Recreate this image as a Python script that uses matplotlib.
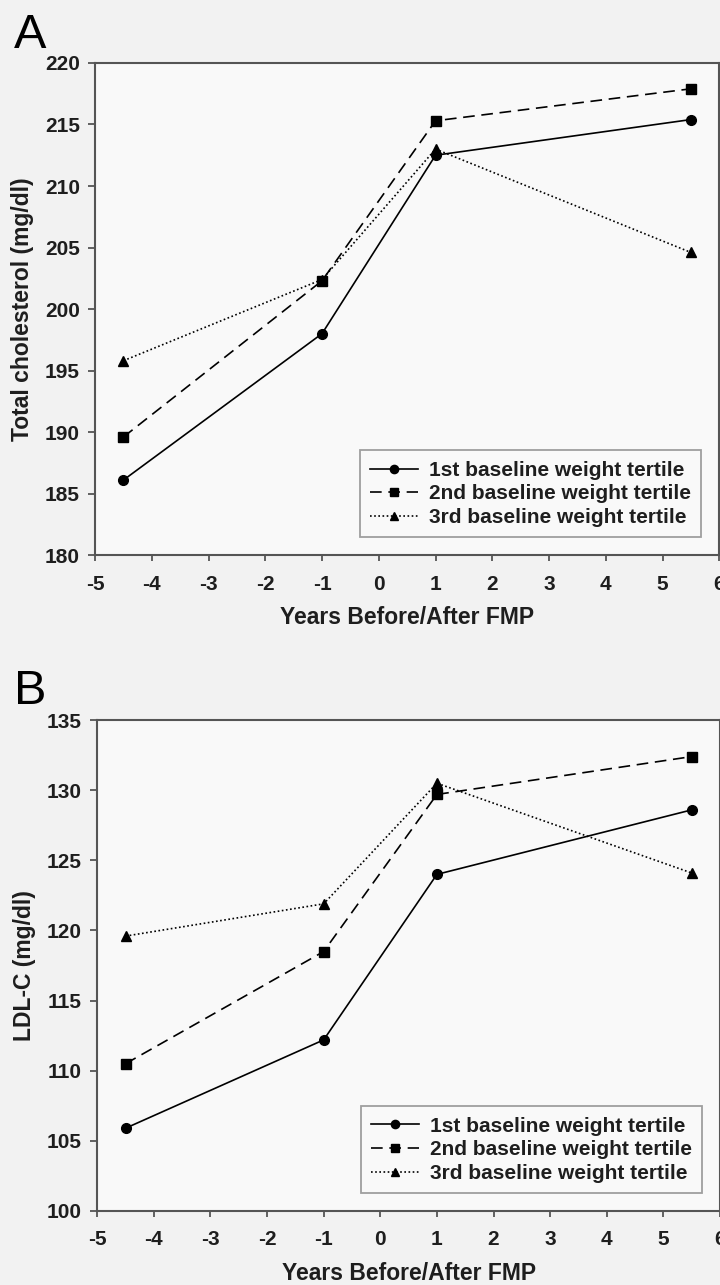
import matplotlib

matplotlib.use("Agg")
import matplotlib.pyplot as plt

plt.rcParams["font.family"] = ["Liberation Sans", "DejaVu Sans"]

# --------------------------------------------------------------------------
# Data
# --------------------------------------------------------------------------
years = [-4.5, -1, 1, 5.5]
series_names = [
    "1st baseline weight tertile",
    "2nd baseline weight tertile",
    "3rd baseline weight tertile",
]

tc_t1 = [186.1, 198.0, 212.5, 215.4]
tc_t2 = [189.6, 202.3, 215.3, 217.9]
tc_t3 = [195.8, 202.4, 213.0, 204.6]

ldl_t1 = [105.9, 112.2, 124.0, 128.6]
ldl_t2 = [110.5, 118.5, 129.7, 132.4]
ldl_t3 = [119.6, 121.9, 130.5, 124.1]

x_ticks = list(range(-5, 7))
tc_ticks = list(range(180, 221, 5))
ldl_ticks = list(range(100, 136, 5))

styles = [
    dict(linestyle="-", marker="o"),
    dict(linestyle=(0, (7, 4)), marker="s"),
    dict(linestyle=(0, (1, 1.5)), marker="^"),
]

FIG_BG = "#f2f2f2"
AX_BG = "#f9f9f9"
EDGE = "#555555"
TXT = "#1e1e1e"


def draw_panel(fig, rect, letter, letter_y, series, ylabel, yticks):
    ax = fig.add_axes(rect)
    ax.set_facecolor(AX_BG)
    for vals, name, st in zip(series, series_names, styles):
        ax.plot(years, vals, color="black", linewidth=1.2, markersize=7,
                label=name, **st)
    ax.set_xlim(-5, 6)
    ax.set_ylim(yticks[0], yticks[-1])
    ax.set_xticks(x_ticks)
    ax.set_xticklabels([str(v) for v in x_ticks])
    ax.set_yticks(yticks)
    ax.tick_params(direction="out", width=1.3, color=EDGE, labelsize=15)
    ax.tick_params(axis="x", length=4, pad=10)
    ax.tick_params(axis="y", length=5, pad=6)
    for lab in ax.get_xticklabels() + ax.get_yticklabels():
        lab.set_fontweight("bold")
        lab.set_color(TXT)
    for sp in ax.spines.values():
        sp.set_color(EDGE)
        sp.set_linewidth(1.5)
    ax.set_xlabel("Years Before/After FMP", fontsize=16.5, fontweight="bold",
                  color=TXT, labelpad=9)
    ax.set_ylabel(ylabel, fontsize=16.5, fontweight="bold", color=TXT,
                  labelpad=8)
    leg = ax.legend(loc="lower right", bbox_to_anchor=(0.971, 0.036),
                    fancybox=False, frameon=True, handlelength=2.3,
                    prop={"weight": "bold", "size": 15}, borderpad=0.5,
                    labelspacing=0.22, handletextpad=0.5, borderaxespad=0,
                    markerscale=0.85)
    leg.get_frame().set_edgecolor("#888888")
    leg.get_frame().set_facecolor(AX_BG)
    leg.get_frame().set_linewidth(1.3)
    for t in leg.get_texts():
        t.set_color(TXT)
    fig.text(0.02, letter_y, letter, fontsize=35, va="center", ha="left")
    return ax


fig = plt.figure(figsize=(7.2, 12.85), dpi=100)
fig.patch.set_facecolor(FIG_BG)

draw_panel(fig, [0.132, 0.568, 0.867, 0.383], "A", 1 - 35 / 1285,
           [tc_t1, tc_t2, tc_t3], "Total cholesterol (mg/dl)", tc_ticks)
draw_panel(fig, [0.135, 0.0576, 0.865, 0.382], "B", 1 - 692 / 1285,
           [ldl_t1, ldl_t2, ldl_t3], "LDL-C (mg/dl)", ldl_ticks)

fig.savefig("out.png", dpi=100, facecolor=FIG_BG)
